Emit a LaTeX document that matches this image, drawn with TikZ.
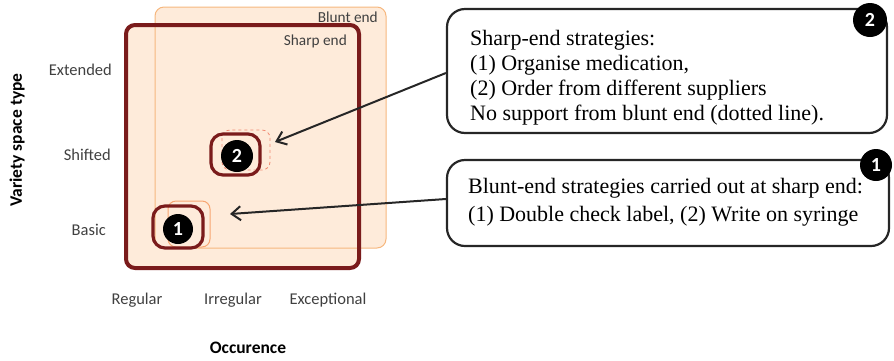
\documentclass[tikz,border=0pt]{standalone}
\usepackage{fontspec}
\setmainfont{Liberation Serif}
\newfontfamily\calfont{Carlito}
\usetikzlibrary{arrows.meta}
\definecolor{peach}{HTML}{FEEBDA}
\definecolor{bluntc}{HTML}{F6B77E}
\definecolor{darkred}{HTML}{7A1B1B}
\definecolor{dashc}{HTML}{F08A72}
\definecolor{axtext}{HTML}{404040}
\tikzset{
  axlabel/.style={font=\calfont\fontsize{16.5}{18}\selectfont, text=axtext, inner sep=0pt},
  axtitle/.style={font=\calfont\bfseries\fontsize{17.5}{18}\selectfont, text=black, inner sep=0pt},
  badge/.style={circle, fill=black, text=white, inner sep=0pt, font=\calfont\bfseries\fontsize{20}{20}\selectfont},
  tagbox/.style={draw=darkred, line width=3.2pt, rounded corners=12pt, inner sep=0pt},
  textbox/.style={draw=black!85, line width=2.2pt, rounded corners=18pt, inner sep=0pt},
  boxtext/.style={font=\fontsize{22}{25}\selectfont, align=left, inner sep=0pt, anchor=north west},
  arr/.style={line width=2pt, black!85, -{Straight Barb[length=9pt, width=14pt, line width=2pt]}}
}
\begin{document}
\begin{tikzpicture}[x=1pt,y=-1pt]
\useasboundingbox (0,0) rectangle (894,360);
% blunt end and sharp end areas
\fill[peach, rounded corners=9pt] (126,25) rectangle (359,268);
\fill[peach, rounded corners=9pt] (155,7) rectangle (386,248);
\draw[bluntc, line width=1pt, rounded corners=9pt] (155,7) rectangle (386,248);
\draw[darkred, line width=4pt, rounded corners=9pt] (126,25) rectangle (359,268);
\node[anchor=east, font=\calfont\fontsize{15.3}{16}\selectfont, text=axtext, inner sep=0pt] (blunt) at (378,17) {Blunt end};
\node[anchor=east, font=\calfont\fontsize{15.3}{16}\selectfont, text=axtext, inner sep=0pt] (sharp) at (347,41) {Sharp end};
% strategy 2
\draw[dashc, line width=0.8pt, dashed, rounded corners=8pt] (222,130) rectangle (270,170);
\node[tagbox, minimum width=49pt, minimum height=41pt] (t2) at (235.5,154.5) {};
\node[badge, minimum size=32pt] (c2) at (237,156) {2};
% strategy 1
\draw[bluntc!90!red, line width=1pt, rounded corners=8pt] (168,201) rectangle (210,247);
\node[tagbox, minimum width=50pt, minimum height=42pt] (t1) at (178,227) {};
\node[badge, minimum size=30pt] (c1) at (178,229) {1};
% axes labels
\node[axlabel, anchor=east] (ext) at (112,70) {Extended};
\node[axlabel, anchor=east] (shi) at (111,155) {Shifted};
\node[axlabel, anchor=east] (bas) at (106,230) {Basic};
\node[axtitle, rotate=90] (vst) at (17,140) {Variety space type};
\node[axlabel] (reg) at (137,300) {Regular};
\node[axlabel] (irr) at (233,300) {Irregular};
\node[axlabel] (exc) at (328,300) {Exceptional};
\node[axtitle] (occ) at (248,348) {Occurence};
% text boxes
\node[textbox, minimum width=440pt, minimum height=124pt] (b2) at (667,71) {};
\node[boxtext] (b2t) at (470,30) {Sharp-end strategies:\\(1) Organise medication,\\(2) Order from different suppliers\\No support from blunt end (dotted line).};
\node[badge, minimum size=34pt] (n2) at (870,20) {2};
\node[textbox, minimum width=442pt, minimum height=86pt] (b1) at (668,203) {};
\node[boxtext, font=\fontsize{22}{28}\selectfont] (b1t) at (468,178) {Blunt-end strategies carried out at sharp end:\\(1) Double check label, (2) Write on syringe};
\node[badge, minimum size=32pt] (n1) at (876,165) {1};
% arrows
\coordinate (a2s) at (b2.west |- 0,73);
\coordinate (a2e) at (275,142);
\coordinate (a1s) at (b1.west |- 0,199);
\coordinate (a1e) at (230,214);
\draw[arr] (a2s) -- (a2e);
\draw[arr] (a1s) -- (a1e);
\end{tikzpicture}
\end{document}
